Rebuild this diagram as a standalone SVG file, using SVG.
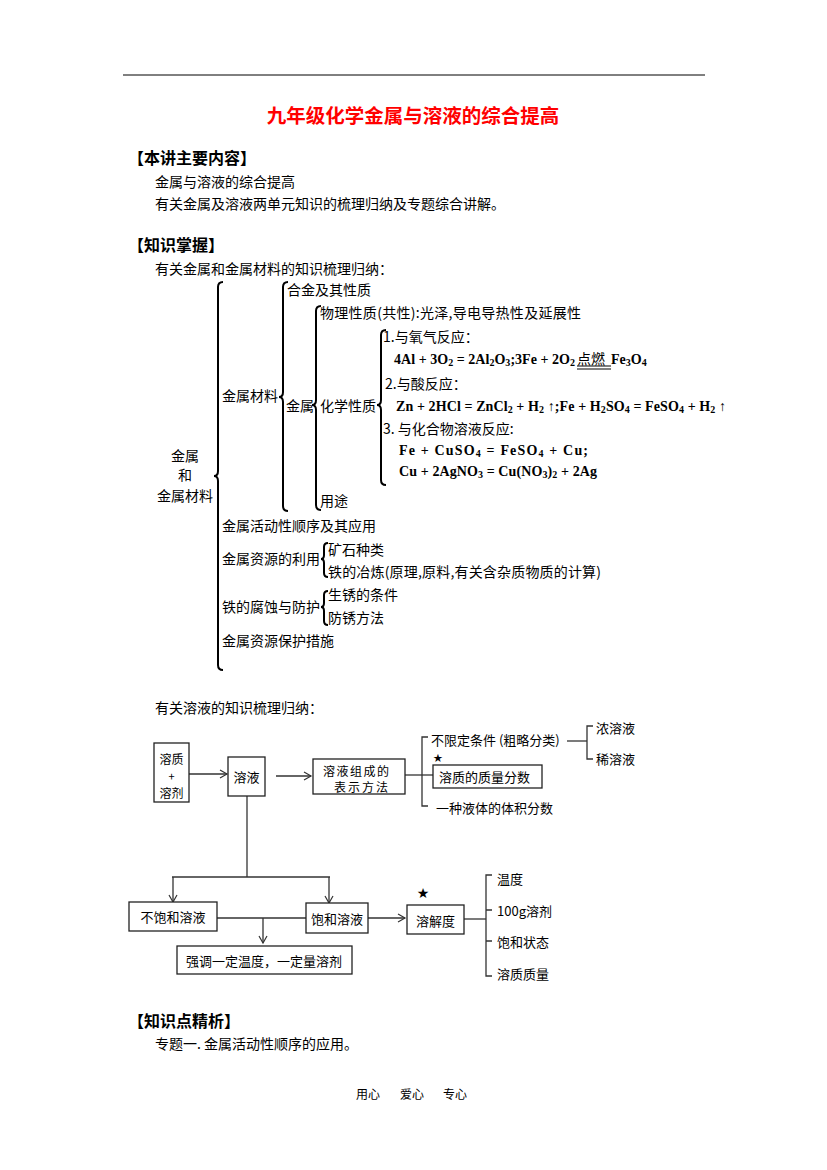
<svg xmlns="http://www.w3.org/2000/svg" width="827" height="1170" viewBox="0 0 827 1170">
<style>
text{font-family:"Noto Sans CJK SC","Noto Sans",sans-serif;fill:#000;dominant-baseline:central}
.t14{font-size:14px}
.t13{font-size:13px}
.t12{font-size:12px}
.h{font-size:16px;font-weight:bold}
.f{font-family:"Liberation Serif","Noto Sans CJK SC",serif;font-weight:bold;font-size:14px}
.brace{fill:none;stroke:#000;stroke-width:2}
.box{fill:#fff;stroke:#222;stroke-width:1.3}
.ln{fill:none;stroke:#333;stroke-width:1.3}
.star{font-family:"DejaVu Sans",sans-serif;font-size:14px}
</style>
<defs>
<marker id="arr" markerWidth="10" markerHeight="10" refX="8" refY="5" orient="auto" markerUnits="userSpaceOnUse">
<path d="M1,1 L8,5 L1,9" fill="none" stroke="#333" stroke-width="1.2"/>
</marker>
</defs>
<rect width="827" height="1170" fill="#fff"/>
<line x1="123" y1="75" x2="705" y2="75" stroke="#000" stroke-width="1"/>
<text x="413" y="114" text-anchor="middle" style="font-size:19.5px;font-weight:bold;fill:#f00">九年级化学金属与溶液的综合提高</text>
<text class="h" x="128" y="157">【本讲主要内容】</text>
<text class="t14" x="155" y="181">金属与溶液的综合提高</text>
<text class="t14" x="155" y="203">有关金属及溶液两单元知识的梳理归纳及专题综合讲解。</text>
<text class="h" x="128" y="244">【知识掌握】</text>
<text class="t14" x="155" y="268">有关金属和金属材料的知识梳理归纳：</text>

<g id="tree-metal">
<g id="root">
<text class="t14" x="185" y="455" text-anchor="middle">金属</text>
<text class="t14" x="185" y="474" text-anchor="middle">和</text>
<text class="t14" x="185" y="495" text-anchor="middle">金属材料</text>
</g>
<g id="braces">
<path class="brace" d="M223,282 Q218,282 218,287 L218,471 Q218,476 214,476 Q218,476 218,481 L218,665 Q218,670 223,670"/>
<path class="brace" d="M288,282 Q283,282 283,287 L283,392 Q283,397 279,397 Q283,397 283,402 L283,506 Q283,511 288,511"/>
<path class="brace" d="M321,306 Q316,306 316,311 L316,400 Q316,405 312,405 Q316,405 316,410 L316,505 Q316,510 321,510"/>
<path class="brace" d="M386,330 Q381,330 381,335 L381,400 Q381,405 377,405 Q381,405 381,410 L381,480 Q381,485 386,485"/>
<path class="brace" d="M328,543 Q324,543 324,547 L324,555 Q324,559 321,559 Q324,559 324,563 L324,573 Q324,577 328,577"/>
<path class="brace" d="M328,591 Q324,591 324,595 L324,603 Q324,607 321,607 Q324,607 324,611 L324,621 Q324,625 328,625"/>
</g>
<g id="n-material"><text class="t14" x="222" y="395">金属材料</text></g>
<g id="n-alloy"><text class="t14" x="287" y="289">合金及其性质</text></g>
<g id="n-metal"><text class="t14" x="286" y="405">金属</text></g>
<g id="n-phys"><text class="t14" x="320" y="312" textLength="261" lengthAdjust="spacing">物理性质(共性):光泽,导电导热性及延展性</text></g>
<g id="n-chem"><text class="t14" x="320" y="405">化学性质</text></g>
<g id="n-use"><text class="t14" x="320" y="500">用途</text></g>
<g id="n-r1">
<text class="t14" x="383" y="336">1.与氧气反应：</text>
<text class="f" x="394" y="359" textLength="181" lengthAdjust="spacing">4Al + 3O<tspan dy="3" font-size="10">2</tspan><tspan dy="-3"> = 2Al</tspan><tspan dy="3" font-size="10">2</tspan><tspan dy="-3">O</tspan><tspan dy="3" font-size="10">3</tspan><tspan dy="-3">;3Fe + 2O</tspan><tspan dy="3" font-size="10">2</tspan></text>
<text class="t14" x="577" y="358">点燃</text>
<line x1="577" y1="366" x2="611" y2="366" stroke="#000" stroke-width="1"/>
<line x1="577" y1="369" x2="611" y2="369" stroke="#000" stroke-width="1"/>
<text class="f" x="611" y="359">Fe<tspan dy="3" font-size="10">3</tspan><tspan dy="-3">O</tspan><tspan dy="3" font-size="10">4</tspan></text>
</g>
<g id="n-r2">
<text class="t14" x="385" y="383">2.与酸反应：</text>
<text class="f" x="396" y="406" textLength="330" lengthAdjust="spacing">Zn + 2HCl = ZnCl<tspan dy="3" font-size="10">2</tspan><tspan dy="-3"> + H</tspan><tspan dy="3" font-size="10">2</tspan><tspan dy="-3"> ↑;Fe + H</tspan><tspan dy="3" font-size="10">2</tspan><tspan dy="-3">SO</tspan><tspan dy="3" font-size="10">4</tspan><tspan dy="-3"> = FeSO</tspan><tspan dy="3" font-size="10">4</tspan><tspan dy="-3"> + H</tspan><tspan dy="3" font-size="10">2</tspan><tspan dy="-3"> ↑</tspan></text>
</g>
<g id="n-r3">
<text class="t14" x="383" y="428">3. 与化合物溶液反应:</text>
<text class="f" x="399" y="450" textLength="189" lengthAdjust="spacing">Fe + CuSO<tspan dy="3" font-size="10">4</tspan><tspan dy="-3"> = FeSO</tspan><tspan dy="3" font-size="10">4</tspan><tspan dy="-3"> + Cu;</tspan></text>
<text class="f" x="399" y="471" textLength="198" lengthAdjust="spacing">Cu + 2AgNO<tspan dy="3" font-size="10">3</tspan><tspan dy="-3"> = Cu(NO</tspan><tspan dy="3" font-size="10">3</tspan><tspan dy="-3">)</tspan><tspan dy="3" font-size="10">2</tspan><tspan dy="-3"> + 2Ag</tspan></text>
</g>
<g id="n-activity"><text class="t14" x="222" y="525">金属活动性顺序及其应用</text></g>
<g id="n-resource"><text class="t14" x="222" y="558">金属资源的利用</text></g>
<g id="n-ore"><text class="t14" x="328" y="549">矿石种类</text></g>
<g id="n-smelt"><text class="t14" x="328" y="571" textLength="273" lengthAdjust="spacing">铁的冶炼(原理,原料,有关含杂质物质的计算)</text></g>
<g id="n-corrosion"><text class="t14" x="222" y="606">铁的腐蚀与防护</text></g>
<g id="n-rust"><text class="t14" x="328" y="594">生锈的条件</text></g>
<g id="n-prevent"><text class="t14" x="328" y="617">防锈方法</text></g>
<g id="n-protect"><text class="t14" x="222" y="640">金属资源保护措施</text></g>
</g>

<text class="t14" x="155" y="707">有关溶液的知识梳理归纳：</text>

<g id="connectors">
<line class="ln" x1="189" y1="774" x2="227" y2="774" marker-end="url(#arr)"/>
<line class="ln" x1="276" y1="776" x2="311" y2="776" marker-end="url(#arr)"/>
<line class="ln" x1="405" y1="775" x2="433" y2="775"/>
<path class="ln" d="M428,737 L422,737 L422,806 L428,806"/>
<line class="ln" x1="567" y1="741" x2="587" y2="741"/>
<path class="ln" d="M593,726 L587,726 L587,759 L593,759"/>
<line class="ln" x1="247" y1="796" x2="247" y2="877"/>
<line class="ln" x1="172" y1="877" x2="330" y2="877"/>
<line class="ln" x1="173" y1="877" x2="173" y2="902" marker-end="url(#arr)"/>
<line class="ln" x1="329" y1="877" x2="329" y2="903" marker-end="url(#arr)"/>
<line class="ln" x1="217" y1="918" x2="306" y2="918"/>
<line class="ln" x1="263" y1="918" x2="263" y2="943" marker-end="url(#arr)"/>
<line class="ln" x1="368" y1="918" x2="405" y2="918" marker-end="url(#arr)"/>
<line class="ln" x1="464" y1="919" x2="486" y2="919"/>
<path class="ln" d="M492,875 L486,875 L486,976 L492,976 M486,910 L492,910 M486,941 L492,941"/>
</g>

<g id="n-solute-solvent">
<rect class="box" x="154" y="743" width="35" height="59"/>
<text class="t12" x="171.5" y="758" text-anchor="middle">溶质</text>
<text x="171.5" y="776" text-anchor="middle" style="font-size:11px">+</text>
<text class="t12" x="171.5" y="792" text-anchor="middle">溶剂</text>
</g>
<g id="n-solution">
<rect class="box" x="228" y="757" width="37" height="39"/>
<text class="t13" x="246.5" y="776" text-anchor="middle">溶液</text>
</g>
<g id="n-composition">
<rect class="box" x="313" y="759" width="92" height="35"/>
<text class="t12" x="356" y="770" text-anchor="middle" textLength="66" lengthAdjust="spacing">溶液组成的</text>
<text class="t12" x="361" y="786" text-anchor="middle" textLength="54" lengthAdjust="spacing">表示方法</text>
</g>
<g id="n-unlimited"><text class="t13" x="431" y="739.5">不限定条件 (粗略分类)</text></g>
<g id="n-conc"><text class="t13" x="596" y="727">浓溶液</text></g>
<g id="n-dilute"><text class="t13" x="596" y="758">稀溶液</text></g>
<g id="n-massfrac">
<text x="438" y="758" text-anchor="middle" style="font-family:'DejaVu Sans',sans-serif;font-size:11.5px">★</text>
<rect class="box" x="433" y="765" width="109" height="23"/>
<text class="t13" x="439" y="776">溶质的质量分数</text>
</g>
<g id="n-volfrac"><text class="t13" x="436" y="807">一种液体的体积分数</text></g>
<g id="n-unsat">
<rect class="box" x="129" y="902" width="88" height="29"/>
<text class="t13" x="173" y="916" text-anchor="middle">不饱和溶液</text>
</g>
<g id="n-sat">
<rect class="box" x="306" y="903" width="62" height="30"/>
<text class="t13" x="337" y="918" text-anchor="middle">饱和溶液</text>
</g>
<g id="n-emphasis">
<rect class="box" x="177" y="946" width="175" height="28"/>
<text class="t13" x="264" y="960" text-anchor="middle">强调一定温度，一定量溶剂</text>
</g>
<g id="n-solubility">
<text class="star" x="423" y="893" text-anchor="middle">★</text>
<rect class="box" x="407" y="905" width="57" height="29"/>
<text class="t13" x="435.5" y="920" text-anchor="middle">溶解度</text>
</g>
<g id="n-temp"><text class="t13" x="497" y="878">温度</text></g>
<g id="n-100g"><text class="t13" x="497" y="910">100g溶剂</text></g>
<g id="n-satstate"><text class="t13" x="497" y="941">饱和状态</text></g>
<g id="n-solmass"><text class="t13" x="497" y="973">溶质质量</text></g>

<text class="h" x="128" y="1020">【知识点精析】</text>
<text class="t14" x="155" y="1043">专题一. 金属活动性顺序的应用。</text>
<text x="356" y="1093" style="font-size:12px">用心</text>
<text x="400" y="1093" style="font-size:12px">爱心</text>
<text x="443" y="1093" style="font-size:12px">专心</text>
</svg>
